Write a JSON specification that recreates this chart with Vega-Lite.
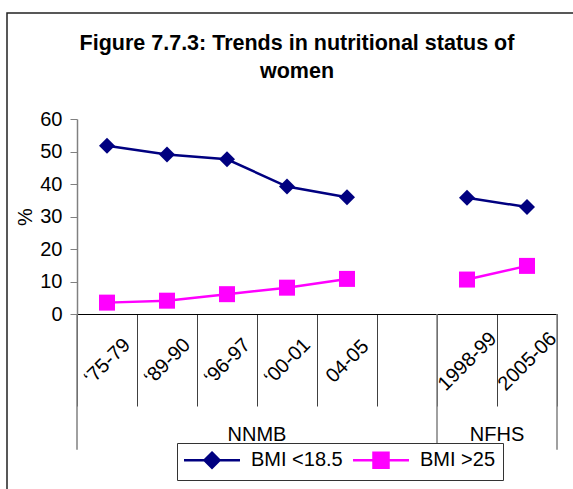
{
  "$schema": "https://vega.github.io/schema/vega-lite/v6.json",
  "width": 570,
  "height": 480,
  "autosize": {"type": "none"},
  "padding": {"left": 7, "top": 13, "right": 0, "bottom": 0},
  "background": "white",
  "config": {
    "font": "Liberation Sans",
    "view": {"stroke": "#222222", "strokeWidth": 1.5}
  },
  "title": {
    "text": ["Figure 7.7.3: Trends in nutritional status of", "women"],
    "font": "Liberation Sans",
    "fontSize": 21.5,
    "fontWeight": "bold",
    "color": "#000000",
    "anchor": "middle",
    "frame": "group",
    "lineHeight": 28,
    "offset": -69,
    "dx": 5
  },
  "datasets": {
    "points": [
      {"period": "‘75-79", "group": "NNMB", "series": "BMI <18.5", "value": 51.8},
      {"period": "‘89-90", "group": "NNMB", "series": "BMI <18.5", "value": 49.1},
      {"period": "‘96-97", "group": "NNMB", "series": "BMI <18.5", "value": 47.6},
      {"period": "‘00-01", "group": "NNMB", "series": "BMI <18.5", "value": 39.2},
      {"period": "04-05", "group": "NNMB", "series": "BMI <18.5", "value": 35.9},
      {"period": "1998-99", "group": "NFHS", "series": "BMI <18.5", "value": 35.8},
      {"period": "2005-06", "group": "NFHS", "series": "BMI <18.5", "value": 32.9},
      {"period": "‘75-79", "group": "NNMB", "series": "BMI >25", "value": 3.5},
      {"period": "‘89-90", "group": "NNMB", "series": "BMI >25", "value": 4.1},
      {"period": "‘96-97", "group": "NNMB", "series": "BMI >25", "value": 6.1},
      {"period": "‘00-01", "group": "NNMB", "series": "BMI >25", "value": 8.1},
      {"period": "04-05", "group": "NNMB", "series": "BMI >25", "value": 10.8},
      {"period": "1998-99", "group": "NFHS", "series": "BMI >25", "value": 10.6},
      {"period": "2005-06", "group": "NFHS", "series": "BMI >25", "value": 14.8}
    ],
    "groups": [
      {"group": "NNMB", "start": "‘75-79", "mid": "‘00-01"},
      {"group": "NFHS", "start": "1998-99", "mid": "2005-06"}
    ],
    "ends": [
      {"end": "2005-06"}
    ]
  },
  "resolve": {"legend": {"color": "independent", "shape": "independent"}},
  "layer": [
    {
      "data": {"name": "groups"},
      "mark": {"type": "rule", "color": "#808080", "strokeWidth": 1.5},
      "encoding": {
        "x": {"field": "start", "type": "nominal", "bandPosition": 0},
        "y": {"datum": 0},
        "y2": {"datum": -41.8}
      }
    },
    {
      "data": {"name": "ends"},
      "mark": {"type": "rule", "color": "#808080", "strokeWidth": 1.5},
      "encoding": {
        "x": {"field": "end", "type": "nominal", "bandPosition": 1},
        "y": {"datum": 0},
        "y2": {"datum": -41.8}
      }
    },
    {
      "data": {"name": "groups"},
      "mark": {"type": "text", "fontSize": 20, "font": "Liberation Sans", "color": "#000000", "align": "center", "baseline": "middle"},
      "encoding": {
        "x": {"field": "mid", "type": "nominal", "bandPosition": 0},
        "y": {"datum": -37.2},
        "text": {"field": "group"}
      }
    },
    {
      "data": {"name": "points"},
      "mark": {"type": "line", "strokeWidth": 2.5},
      "encoding": {
        "x": {
          "field": "period",
          "type": "nominal",
          "sort": null,
          "scale": {
            "domain": ["‘75-79", "‘89-90", "‘96-97", "‘00-01", "04-05", " ", "1998-99", "2005-06"],
            "range": [70, 550],
            "paddingInner": 0,
            "paddingOuter": 0
          },
          "axis": {
            "title": null,
            "offset": -179,
            "domainColor": "#000000",
            "domainWidth": 1,
            "ticks": true,
            "tickBand": "extent",
            "tickSize": 92,
            "tickColor": "#404040",
            "tickWidth": 1,
            "labelAngle": -45,
            "labelAlign": "center",
            "labelBaseline": "middle",
            "labelPadding": -45,
            "labelFontSize": 20,
            "labelFont": "Liberation Sans",
            "labelColor": "#000000",
            "labelOverlap": false,
            "labelBound": false,
            "labelFlush": false
          }
        },
        "y": {
          "field": "value",
          "type": "quantitative",
          "scale": {"domain": [0, 60], "range": [301, 106], "nice": false, "zero": false},
          "axis": {
            "title": "%",
            "offset": -70,
            "values": [0, 10, 20, 30, 40, 50, 60],
            "grid": false,
            "domainColor": "#808080",
            "domainWidth": 1.5,
            "tickColor": "#808080",
            "tickSize": 7,
            "tickWidth": 1,
            "labelFontSize": 20,
            "labelFont": "Liberation Sans",
            "labelColor": "#000000",
            "labelPadding": 8,
            "titleFontSize": 20,
            "titleFont": "Liberation Sans",
            "titleFontWeight": "normal",
            "titleColor": "#000000",
            "titlePadding": 4
          }
        },
        "color": {
          "field": "series",
          "type": "nominal",
          "scale": {"domain": ["BMI <18.5", "BMI >25"], "range": ["#000080", "#FF00FF"]},
          "legend": {
            "title": null,
            "orient": "none",
            "legendX": 170,
            "legendY": 430,
            "direction": "horizontal",
            "columns": 2,
            "strokeColor": "#333333",
            "fillColor": "#ffffff",
            "padding": 7,
            "symbolSize": 225,
            "symbolOffset": 18,
            "labelOffset": 29,
            "columnPadding": 5,
            "symbolStrokeWidth": 2.5,
            "labelFontSize": 20,
            "labelFont": "Liberation Sans",
            "labelColor": "#000000",
            "encode": {
              "symbols": {
                "update": {
                  "shape": {"signal": "datum.value == 'BMI <18.5' ? 'M-3.73,0H3.73M0,-1L1,0L0,1L-1,0Z' : 'M-3.73,0H3.73M-1,-1H1V1H-1Z'"},
                  "fill": {"signal": "datum.value == 'BMI <18.5' ? '#000080' : '#FF00FF'"},
                  "stroke": {"signal": "datum.value == 'BMI <18.5' ? '#000080' : '#FF00FF'"},
                  "strokeWidth": {"value": 2.5},
                  "opacity": {"value": 1}
                }
              }
            }
          }
        },
        "detail": {"field": "group"}
      }
    },
    {
      "data": {"name": "points"},
      "mark": {"type": "point", "filled": true, "size": 256, "opacity": 1},
      "encoding": {
        "x": {"field": "period", "type": "nominal", "sort": null},
        "y": {"field": "value", "type": "quantitative"},
        "color": {"field": "series", "type": "nominal", "legend": null},
        "shape": {
          "field": "series",
          "type": "nominal",
          "scale": {"domain": ["BMI <18.5", "BMI >25"], "range": ["diamond", "square"]},
          "legend": null
        }
      }
    }
  ]
}
